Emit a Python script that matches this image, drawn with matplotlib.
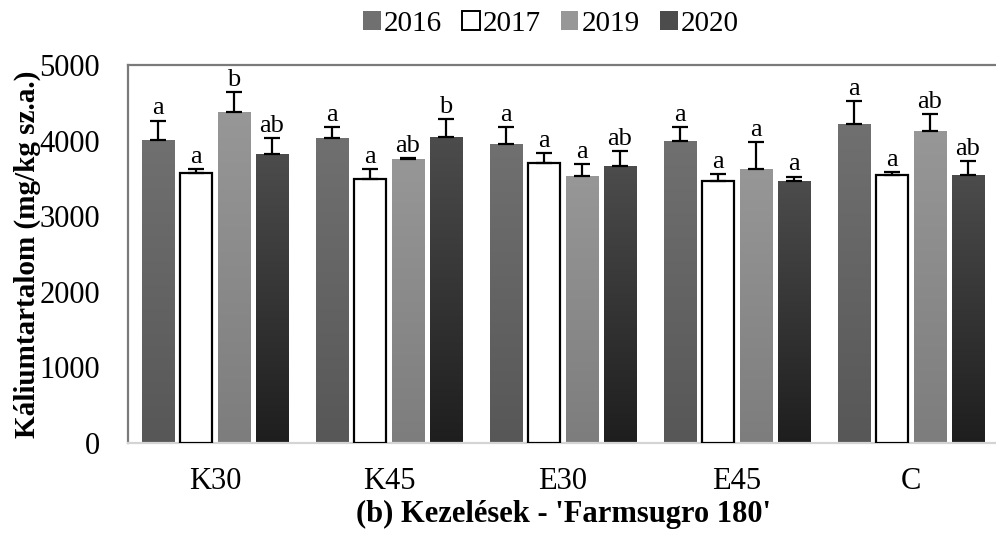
import numpy as np
import matplotlib
matplotlib.use("Agg")
import matplotlib.pyplot as plt
import matplotlib.colors as colors
import matplotlib.patches as mpatches

plt.rcParams['font.family'] = ['Liberation Serif', 'DejaVu Serif']

treatments = ['K30', 'K45', 'E30', 'E45', 'C']
years = ['2016', '2017', '2019', '2020']

# mean potassium content per year, one value per treatment
k_2016 = [4010, 4030, 3950, 3995, 4220]
k_2017 = [3565, 3490, 3700, 3470, 3545]
k_2019 = [4375, 3755, 3530, 3625, 4125]
k_2020 = [3820, 4045, 3660, 3460, 3545]

# upper error (standard deviation)
sd_2016 = [255, 145, 230, 185, 305]
sd_2017 = [60, 130, 135, 90, 40]
sd_2019 = [270, 18, 165, 355, 225]
sd_2020 = [215, 245, 205, 65, 185]

# significance letters
sig_2016 = ['a', 'a', 'a', 'a', 'a']
sig_2017 = ['a', 'a', 'a', 'a', 'a']
sig_2019 = ['b', 'ab', 'a', 'a', 'ab']
sig_2020 = ['ab', 'b', 'ab', 'a', 'ab']

means = [k_2016, k_2017, k_2019, k_2020]
errs = [sd_2016, sd_2017, sd_2019, sd_2020]
sigs = [sig_2016, sig_2017, sig_2019, sig_2020]

# (top colour, bottom colour); None means white bar with black edge
fills = [('#707070', '#575757'),
         None,
         ('#979797', '#7d7d7d'),
         ('#4c4c4c', '#1e1e1e')]


def gradient_bar(ax, bar, top, bottom):
    cmap = colors.LinearSegmentedColormap.from_list('g', [bottom, top])
    x0, y0 = bar.get_x(), bar.get_y()
    w, h = bar.get_width(), bar.get_height()
    grad = np.linspace(0, 1, 256).reshape(-1, 1)
    im = ax.imshow(grad, cmap=cmap, origin='lower', aspect='auto',
                   extent=(x0, x0 + w, y0, y0 + h), zorder=2)
    im.set_clip_path(bar)


fig = plt.figure(figsize=(9.96, 5.33), dpi=100)
ax = fig.add_axes([128 / 996, (533 - 443) / 533, 870 / 996, 378 / 533])

x = np.arange(len(treatments))
step = 0.218
width = 0.184
handles = []
for i, yr in enumerate(years):
    pos = x + (i - 1.5) * step
    if fills[i] is None:
        bars = ax.bar(pos, means[i], width, color='white', edgecolor='black',
                      linewidth=1.6, zorder=3)
        handles.append(mpatches.Patch(facecolor='white', edgecolor='black',
                                      linewidth=1.4, label=yr))
    else:
        top, bottom = fills[i]
        bars = ax.bar(pos, means[i], width, color='none', linewidth=0, zorder=2)
        for b in bars:
            gradient_bar(ax, b, top, bottom)
        handles.append(mpatches.Patch(facecolor=top, edgecolor='none', label=yr))
    ax.errorbar(pos, means[i], yerr=[np.zeros(len(x)), errs[i]], fmt='none',
                ecolor='black', elinewidth=1.6, capsize=5.5, capthick=1.6,
                zorder=4)
    for p, m, e, s in zip(pos, means[i], errs[i], sigs[i]):
        ax.text(p, m + e + 15, s, ha='center', va='bottom', fontsize=19,
                zorder=5)

ax.set_xlim(-0.5, 4.5)
ax.set_ylim(0, 5000)
ax.set_yticks(np.arange(0, 5001, 1000))
ax.set_xticks(x)
ax.set_xticklabels(treatments)
ax.tick_params(axis='both', length=0, labelsize=22)
ax.tick_params(axis='y', pad=20)
ax.tick_params(axis='x', pad=17)

for side in ['top', 'left', 'right']:
    ax.spines[side].set_color('#7a7a7a')
    ax.spines[side].set_linewidth(1.6)
ax.spines['bottom'].set_color('#d4d4d4')
ax.spines['bottom'].set_linewidth(1.6)

ax.set_ylabel('Káliumtartalom (mg/kg sz.a.)', fontsize=21, fontweight='bold',
              labelpad=-1)
ax.set_xlabel("(b) Kezelések - 'Farmsugro 180'", fontsize=22,
              fontweight='bold', labelpad=3)

fig.legend(handles=handles, loc='center', bbox_to_anchor=(0.553, 0.955),
           ncol=4, frameon=False, fontsize=21, handlelength=0.6,
           handleheight=0.6, handletextpad=0.1, columnspacing=0.7)

fig.savefig('out.png', dpi=100)
